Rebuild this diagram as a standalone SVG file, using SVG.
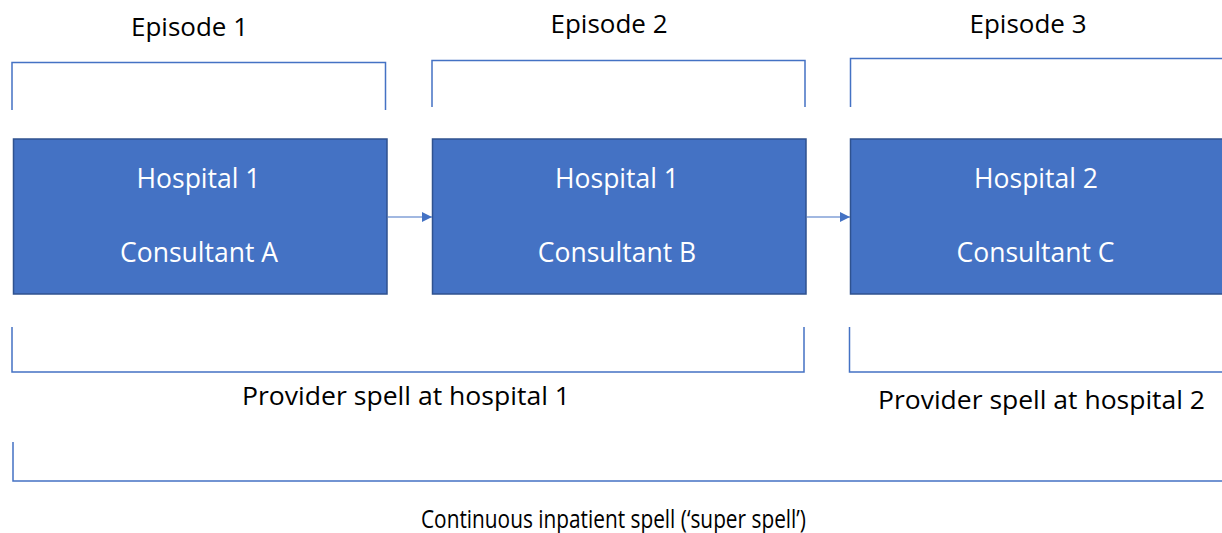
<svg xmlns="http://www.w3.org/2000/svg" width="1222" height="533" viewBox="0 0 1222 533">
  <defs>
    <style>
      .box { fill: #4472C4; stroke: #2F528F; stroke-width: 1.5; }
      .inner { fill: #FFFFFF; font-family: "Open Sans", "Liberation Sans", sans-serif; font-size: 26.5px; text-anchor: middle; }
      .label { fill: #000000; font-family: "Open Sans", "Liberation Sans", sans-serif; font-size: 25px; font-weight: 500; text-anchor: middle; }
      .bracket { fill: none; stroke: #4472C4; stroke-width: 1.5; }
      .link { fill: none; stroke: #4472C4; stroke-width: 1.2; marker-end: url(#arrow); }
    </style>
    <marker id="arrow" viewBox="0 0 10 10" refX="10" refY="5" markerUnits="userSpaceOnUse" markerWidth="10" markerHeight="10" orient="auto">
      <path d="M0,0 L10,5 L0,10 Z" fill="#4472C4"/>
    </marker>
  </defs>

  <rect width="1222" height="533" fill="#FFFFFF"/>

  <!-- episode headings and brackets -->
  <g id="episode-1">
    <text class="label" x="189.5" y="36" textLength="117" lengthAdjust="spacingAndGlyphs">Episode 1</text>
    <path class="bracket" d="M12,110 V62.5 H385.5 V110"/>
  </g>
  <g id="episode-2">
    <text class="label" x="609" y="33" textLength="117" lengthAdjust="spacingAndGlyphs">Episode 2</text>
    <path class="bracket" d="M432,107 V60.5 H805 V107"/>
  </g>
  <g id="episode-3">
    <text class="label" x="1028" y="33" textLength="117" lengthAdjust="spacingAndGlyphs">Episode 3</text>
    <path class="bracket" d="M850.5,107 V58.5 H1223"/>
  </g>

  <!-- care nodes -->
  <g id="node-a">
    <rect class="box" x="13.5" y="139" width="373.5" height="155"/>
    <text class="inner" x="198.5" y="188">Hospital 1</text>
    <text class="inner" x="199" y="262">Consultant A</text>
  </g>
  <g id="node-b">
    <rect class="box" x="432.5" y="139" width="373.5" height="155"/>
    <text class="inner" x="617" y="188">Hospital 1</text>
    <text class="inner" x="617" y="262">Consultant B</text>
  </g>
  <g id="node-c">
    <rect class="box" x="850.5" y="139" width="373.5" height="155"/>
    <text class="inner" x="1036" y="188">Hospital 2</text>
    <text class="inner" x="1035.5" y="262">Consultant C</text>
  </g>

  <!-- connectors -->
  <g id="connectors">
    <line class="link" x1="387.5" y1="217" x2="432" y2="217"/>
    <line class="link" x1="806.5" y1="217" x2="850" y2="217"/>
  </g>

  <!-- spell brackets -->
  <g id="provider-spell-1">
    <path class="bracket" d="M12,327 V372 H804 V327"/>
    <text class="label" x="406" y="405" textLength="328" lengthAdjust="spacingAndGlyphs">Provider spell at hospital 1</text>
  </g>
  <g id="provider-spell-2">
    <path class="bracket" d="M849.5,327 V372 H1223"/>
    <text class="label" x="1041.5" y="409" textLength="327" lengthAdjust="spacingAndGlyphs">Provider spell at hospital 2</text>
  </g>
  <g id="super-spell">
    <path class="bracket" d="M13,442 V481 H1223"/>
    <text class="label" x="613.5" y="528" textLength="385" lengthAdjust="spacingAndGlyphs">Continuous inpatient spell (‘super spell’)</text>
  </g>
</svg>
